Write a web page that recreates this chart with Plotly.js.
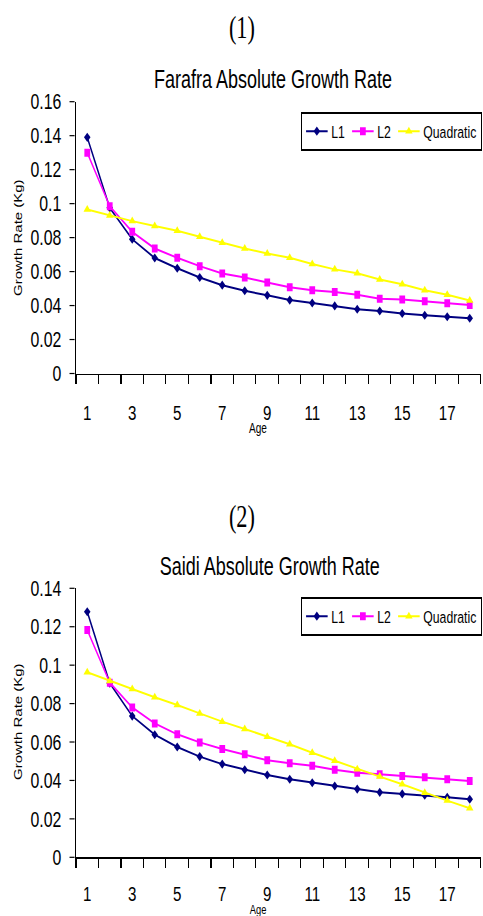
<!DOCTYPE html>
<html>
<head>
<meta charset="utf-8">
<script src="https://cdn.plot.ly/plotly-3.0.1.min.js"></script>
<style>
html,body{margin:0;padding:0;background:#fff;overflow:hidden;}
#wrap{width:483px;height:916px;overflow:hidden;position:relative;}
#chart{width:671px;height:916px;transform:scaleX(0.7198);transform-origin:0 0;position:absolute;left:0;top:0;}
</style>
</head>
<body>
<div id="wrap"><div id="chart"></div></div>
<script>
// ---- data ----
const ages = [1,2,3,4,5,6,7,8,9,10,11,12,13,14,15,16,17,18];
const ageTickVals = [1,3,5,7,9,11,13,15,17];
const ageTickText = ["1","3","5","7","9","11","13","15","17"];

const farafraL1 = [0.139,0.0975,0.079,0.068,0.062,0.0565,0.052,0.0487,0.046,0.0432,0.0415,0.0398,0.0378,0.0368,0.0353,0.0343,0.0334,0.0325];
const farafraL2 = [0.130,0.0985,0.0834,0.0736,0.0681,0.0632,0.0589,0.0565,0.0536,0.0508,0.049,0.048,0.0464,0.044,0.0436,0.0426,0.0413,0.0403];
const farafraQuad = [0.0966,0.093,0.0897,0.0868,0.084,0.0805,0.077,0.0736,0.0707,0.0681,0.0645,0.0613,0.059,0.0553,0.0526,0.049,0.0464,0.043];

const saidiL1 = [0.1278,0.0906,0.0735,0.0638,0.0574,0.0524,0.0485,0.0456,0.0428,0.0406,0.0388,0.0371,0.0355,0.0338,0.033,0.0323,0.0312,0.0302];
const saidiL2 = [0.1183,0.0909,0.078,0.0697,0.064,0.0598,0.0564,0.0536,0.0505,0.049,0.0477,0.0456,0.044,0.0432,0.0423,0.0416,0.0406,0.0397];
const saidiQuad = [0.0963,0.0918,0.0876,0.0833,0.0793,0.0749,0.0706,0.0668,0.0628,0.0588,0.0544,0.0503,0.0458,0.042,0.038,0.0336,0.0295,0.0255];

const seriesNames = ["L1","L2","Quadratic"];
const seriesColors = ["#000080","#FF00FF","#FFFF00"];
const seriesSymbols = ["diamond","square","triangle-up"];
const seriesSizes = [7,8,9];

// ---- build ----
// The chart is drawn 671px wide and squeezed horizontally to 483px,
// which gives the condensed look of the reference.
const W = 483, H = 916, WI = 671;
const SANS = '"Liberation Sans",Arial,sans-serif';
const px = v => v / W;
const py = v => 1 - v / H;

function mk(x, y, i, xa, ya, leg) {
  return {
    x: x, y: y, name: seriesNames[i], type: 'scatter', mode: 'lines+markers',
    xaxis: xa, yaxis: ya, legend: leg,
    line: {color: seriesColors[i], width: 2},
    marker: {symbol: seriesSymbols[i], size: seriesSizes[i], color: seriesColors[i], line: {width: 0}}
  };
}

const traces = [
  mk(ages, farafraL1, 0, 'x', 'y', 'legend'),
  mk(ages, farafraL2, 1, 'x', 'y', 'legend'),
  mk(ages, farafraQuad, 2, 'x', 'y', 'legend'),
  mk(ages, saidiL1, 0, 'x2', 'y2', 'legend2'),
  mk(ages, saidiL2, 1, 'x2', 'y2', 'legend2'),
  mk(ages, saidiQuad, 2, 'x2', 'y2', 'legend2')
];

function xAxis(anchor, standoff) {
  return {
    anchor: anchor, domain: [px(76), px(481)], range: [0.5, 18.5],
    tickmode: 'array', tickvals: ageTickVals, ticktext: ageTickText,
    ticks: '', ticklabelstandoff: standoff,
    tickfont: {family: SANS, size: 21, color: '#000'},
    showline: true, linecolor: '#000', linewidth: 1.5,
    showgrid: false, zeroline: false,
    minor: {tickmode: 'linear', tick0: 0.5, dtick: 1, ticks: 'outside', ticklen: 9, tickcolor: '#000', tickwidth: 1.4, showgrid: false}
  };
}
function yAxis(anchor, domain, maxv) {
  return {
    anchor: anchor, domain: domain, range: [0, maxv], dtick: 0.02, tick0: 0,
    ticks: 'outside', ticklen: 7, tickcolor: '#000', tickwidth: 1.2,
    ticklabelstandoff: 7,
    tickfont: {family: SANS, size: 22, color: '#000'},
    showline: true, linecolor: '#000', linewidth: 2,
    showgrid: false, zeroline: false
  };
}

function legendAt(topPx) {
  return {
    orientation: 'h', x: px(482), xanchor: 'right', y: py(topPx), yanchor: 'top',
    bgcolor: '#fff', bordercolor: '#000', borderwidth: 1.6,
    font: {family: SANS, size: 17, color: '#000'},
    tracegroupgap: 0
  };
}

const annotations = [
  {text: '(1)', x: 0.5, y: py(28), font: {family: '"Liberation Serif","Times New Roman",serif', size: 31, color: '#000'}},
  {text: 'Farafra Absolute Growth Rate', x: px(273), y: py(79), font: {family: SANS, size: 25, color: '#000'}},
  {text: 'Growth Rate (Kg)', x: px(18), y: py(238), textangle: -90, font: {family: SANS, size: 15, color: '#000'}},
  {text: 'Age', x: px(258), y: py(428), font: {family: SANS, size: 14, color: '#000'}},
  {text: '(2)', x: 0.5, y: py(516), font: {family: '"Liberation Serif","Times New Roman",serif', size: 31, color: '#000'}},
  {text: 'Saidi Absolute Growth Rate', x: px(270), y: py(566), font: {family: SANS, size: 25, color: '#000'}},
  {text: 'Growth Rate (Kg)', x: px(18), y: py(722), textangle: -90, font: {family: SANS, size: 15, color: '#000'}},
  {text: 'Age', x: px(258), y: py(909), font: {family: SANS, size: 13, color: '#000'}}
].map(a => Object.assign({xref: 'paper', yref: 'paper', showarrow: false, xanchor: 'center', yanchor: 'middle'}, a));

const layout = {
  width: WI, height: H,
  margin: {l: 0, r: 0, t: 0, b: 0},
  paper_bgcolor: '#fff', plot_bgcolor: '#fff',
  showlegend: true,
  xaxis: xAxis('y', 20),
  yaxis: yAxis('x', [py(373.5), py(101.7)], 0.16),
  xaxis2: xAxis('y2', 17),
  yaxis2: yAxis('x2', [py(857.3), py(588.3)], 0.14),
  legend: legendAt(112),
  legend2: legendAt(597),
  annotations: annotations,
  font: {family: SANS, color: '#000'}
};

Plotly.newPlot('chart', traces, layout, {displayModeBar: false, staticPlot: true});
</script>
</body>
</html>
